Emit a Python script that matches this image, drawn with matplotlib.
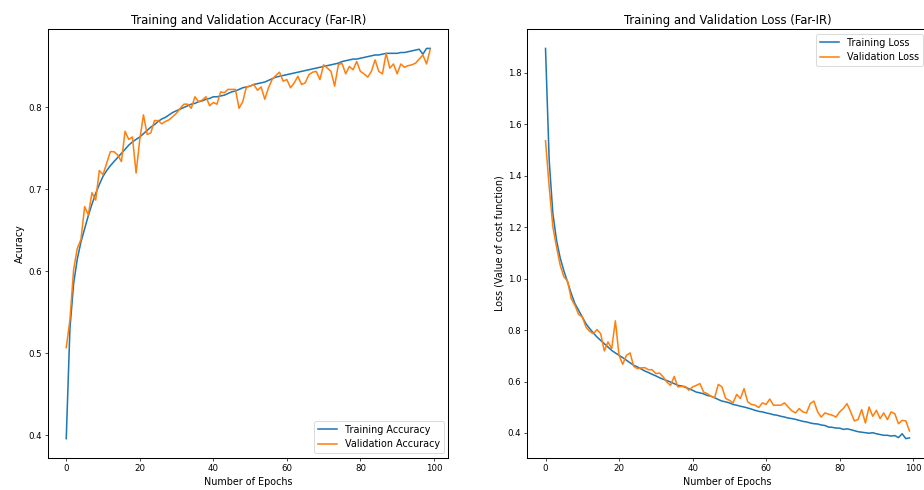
import matplotlib
matplotlib.use("Agg")
import matplotlib.pyplot as plt
import numpy as np

# values (100 epochs)
train_acc = [
    0.396, 0.530, 0.585, 0.615, 0.636, 0.652, 0.668, 0.682, 0.695, 0.706,
    0.716, 0.723, 0.729, 0.734, 0.739, 0.744, 0.749, 0.754, 0.758, 0.761,
    0.764, 0.768, 0.772, 0.776, 0.779, 0.783, 0.786, 0.788, 0.791, 0.794,
    0.796, 0.798, 0.800, 0.802, 0.804, 0.805, 0.807, 0.808, 0.810, 0.811,
    0.813, 0.813, 0.814, 0.815, 0.817, 0.819, 0.820, 0.822, 0.824, 0.825,
    0.826, 0.828, 0.829, 0.830, 0.831, 0.833, 0.835, 0.837, 0.838, 0.839,
    0.840, 0.841, 0.842, 0.843, 0.844, 0.845, 0.846, 0.847, 0.848, 0.849,
    0.850, 0.851, 0.852, 0.853, 0.854, 0.856, 0.857, 0.858, 0.859, 0.859,
    0.860, 0.861, 0.862, 0.863, 0.864, 0.864, 0.865, 0.866, 0.866, 0.866,
    0.866, 0.867, 0.867, 0.868, 0.869, 0.870, 0.871, 0.865, 0.872, 0.872,
]
val_acc = [
    0.507, 0.541, 0.602, 0.628, 0.639, 0.679, 0.669, 0.696, 0.687, 0.723,
    0.718, 0.732, 0.746, 0.746, 0.742, 0.734, 0.771, 0.761, 0.764, 0.720,
    0.761, 0.791, 0.767, 0.769, 0.784, 0.784, 0.780, 0.783, 0.785, 0.789,
    0.793, 0.799, 0.804, 0.804, 0.799, 0.813, 0.807, 0.809, 0.813, 0.802,
    0.806, 0.804, 0.819, 0.818, 0.822, 0.822, 0.822, 0.799, 0.807, 0.825,
    0.826, 0.828, 0.821, 0.825, 0.810, 0.824, 0.834, 0.839, 0.843, 0.832,
    0.834, 0.824, 0.830, 0.838, 0.828, 0.830, 0.840, 0.843, 0.844, 0.834,
    0.852, 0.848, 0.844, 0.826, 0.852, 0.854, 0.841, 0.850, 0.846, 0.856,
    0.844, 0.841, 0.837, 0.844, 0.858, 0.844, 0.841, 0.866, 0.848, 0.853,
    0.841, 0.853, 0.849, 0.851, 0.852, 0.854, 0.859, 0.864, 0.853, 0.871,
]
train_loss = [
    1.895, 1.460, 1.253, 1.149, 1.080, 1.030, 0.987, 0.942, 0.903, 0.877,
    0.851, 0.825, 0.806, 0.789, 0.773, 0.760, 0.747, 0.734, 0.721, 0.711,
    0.702, 0.693, 0.683, 0.673, 0.663, 0.657, 0.649, 0.641, 0.635, 0.628,
    0.622, 0.615, 0.609, 0.604, 0.598, 0.592, 0.585, 0.583, 0.578, 0.572,
    0.566, 0.559, 0.556, 0.552, 0.546, 0.543, 0.537, 0.530, 0.524, 0.521,
    0.517, 0.511, 0.508, 0.504, 0.501, 0.497, 0.493, 0.488, 0.484, 0.482,
    0.478, 0.475, 0.471, 0.469, 0.465, 0.462, 0.458, 0.456, 0.453, 0.449,
    0.445, 0.443, 0.439, 0.436, 0.435, 0.431, 0.429, 0.423, 0.422, 0.419,
    0.419, 0.414, 0.416, 0.413, 0.409, 0.405, 0.403, 0.401, 0.399, 0.401,
    0.397, 0.394, 0.391, 0.391, 0.388, 0.390, 0.382, 0.397, 0.378, 0.381,
]
val_loss = [
    1.536, 1.357, 1.201, 1.123, 1.052, 1.007, 0.991, 0.922, 0.896, 0.861,
    0.851, 0.812, 0.795, 0.786, 0.802, 0.786, 0.719, 0.754, 0.728, 0.836,
    0.702, 0.667, 0.702, 0.711, 0.659, 0.650, 0.653, 0.654, 0.646, 0.646,
    0.631, 0.633, 0.618, 0.598, 0.585, 0.620, 0.579, 0.581, 0.581, 0.566,
    0.579, 0.585, 0.592, 0.559, 0.553, 0.543, 0.537, 0.589, 0.579, 0.534,
    0.527, 0.517, 0.550, 0.534, 0.572, 0.521, 0.511, 0.508, 0.499, 0.517,
    0.511, 0.532, 0.508, 0.508, 0.508, 0.517, 0.501, 0.486, 0.478, 0.495,
    0.482, 0.478, 0.514, 0.524, 0.482, 0.462, 0.478, 0.473, 0.469, 0.462,
    0.482, 0.495, 0.514, 0.482, 0.447, 0.452, 0.491, 0.439, 0.501, 0.465,
    0.488, 0.456, 0.478, 0.452, 0.482, 0.475, 0.436, 0.449, 0.447, 0.408,
]
epochs = np.arange(len(train_acc))

# small dpi so the default font sizes come out at the reference scale
plt.rcParams['axes.linewidth'] = 1.2
plt.rcParams['lines.linewidth'] = 1.8
fig, (ax1, ax2) = plt.subplots(1, 2, figsize=(924 / 62, 490 / 62), dpi=62)
fig.subplots_adjust(left=0.052, right=1.004, bottom=0.065, top=0.941, wspace=0.197)

ax1.plot(epochs, train_acc, label='Training Accuracy')
ax1.plot(epochs, val_acc, label='Validation Accuracy')
ax1.set_title('Training and Validation Accuracy (Far-IR)', fontsize=13.5)
ax1.set_xlabel('Number of Epochs', fontsize=11.2)
ax1.set_ylabel('Acuracy', fontsize=11.2)
ax1.legend(loc='lower right', fontsize=11.2)

ax2.plot(epochs, train_loss, label='Training Loss')
ax2.plot(epochs, val_loss, label='Validation Loss')
ax2.set_title('Training and Validation Loss (Far-IR)', fontsize=13.5)
ax2.set_xlabel('Number of Epochs', fontsize=11.2)
ax2.set_ylabel('Loss (Value of cost function)', fontsize=11.2)
ax2.legend(loc='upper right', fontsize=11.2)

fig.savefig('out.png', dpi=62)
